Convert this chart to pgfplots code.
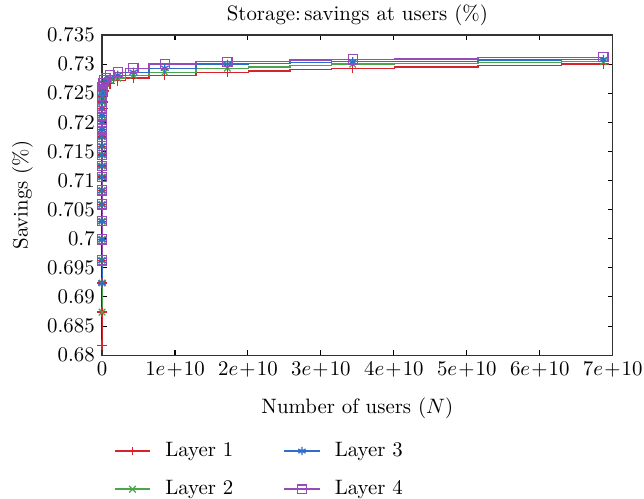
\documentclass[border=0pt]{standalone}
\usepackage{pgfplots}
\pgfplotsset{compat=1.18}
\usepackage{pgfplotstable}
\usetikzlibrary{calc}
\definecolor{c1}{RGB}{215,35,45}
\definecolor{c2}{RGB}{75,165,75}
\definecolor{c3}{RGB}{45,110,200}
\definecolor{c4}{RGB}{150,75,185}

% marked points (N = 2^k, k = 9..36)
\pgfplotstableread{
x L1 L2 L3 L4
5.12e2 0.6817 0.6874 0.6924 0.6963
1.024e3 0.6874 0.6924 0.6963 0.6999
2.048e3 0.6924 0.6963 0.6999 0.7030
4.096e3 0.6963 0.6999 0.7030 0.7059
8.192e3 0.6999 0.7030 0.7059 0.7083
1.6384e4 0.7030 0.7059 0.7083 0.7106
3.2768e4 0.7059 0.7083 0.7106 0.7125
6.5536e4 0.7083 0.7106 0.7125 0.7144
1.31072e5 0.7106 0.7125 0.7144 0.7159
2.62144e5 0.7125 0.7144 0.7159 0.7175
5.24288e5 0.7144 0.7159 0.7175 0.7188
1.048576e6 0.7159 0.7175 0.7188 0.7201
2.097152e6 0.7175 0.7188 0.7201 0.7212
4.194304e6 0.7188 0.7201 0.7212 0.7224
8.388608e6 0.7201 0.7212 0.7224 0.7235
1.6777216e7 0.7212 0.7224 0.7235 0.7245
3.3554432e7 0.7224 0.7235 0.7245 0.7254
6.7108864e7 0.7235 0.7245 0.7254 0.7261
1.34217728e8 0.7245 0.7254 0.7261 0.7267
2.68435456e8 0.7254 0.7261 0.7267 0.7272
5.36870912e8 0.7261 0.7267 0.7272 0.7276
1.073741824e9 0.7267 0.7272 0.7276 0.7281
2.147483648e9 0.7272 0.7276 0.7281 0.7286
4.294967296e9 0.7276 0.7281 0.7286 0.7293
8.589934592e9 0.7281 0.7286 0.7293 0.7300
1.7179869184e10 0.7286 0.7293 0.7300 0.7304
3.4359738368e10 0.7293 0.7300 0.7304 0.7308
6.8719476736e10 0.7300 0.7304 0.7308 0.7312
}\marktab

% line data (marked points plus unmarked steps)
\pgfplotstableread{
x L1 L2 L3 L4
5.12e2 0.6817 0.6874 0.6924 0.6963
1.024e3 0.6874 0.6924 0.6963 0.6999
2.048e3 0.6924 0.6963 0.6999 0.7030
4.096e3 0.6963 0.6999 0.7030 0.7059
8.192e3 0.6999 0.7030 0.7059 0.7083
1.6384e4 0.7030 0.7059 0.7083 0.7106
3.2768e4 0.7059 0.7083 0.7106 0.7125
6.5536e4 0.7083 0.7106 0.7125 0.7144
1.31072e5 0.7106 0.7125 0.7144 0.7159
2.62144e5 0.7125 0.7144 0.7159 0.7175
5.24288e5 0.7144 0.7159 0.7175 0.7188
1.048576e6 0.7159 0.7175 0.7188 0.7201
2.097152e6 0.7175 0.7188 0.7201 0.7212
4.194304e6 0.7188 0.7201 0.7212 0.7224
8.388608e6 0.7201 0.7212 0.7224 0.7235
1.6777216e7 0.7212 0.7224 0.7235 0.7245
3.3554432e7 0.7224 0.7235 0.7245 0.7254
6.7108864e7 0.7235 0.7245 0.7254 0.7261
1.34217728e8 0.7245 0.7254 0.7261 0.7267
2.68435456e8 0.7254 0.7261 0.7267 0.7272
5.36870912e8 0.7261 0.7267 0.7272 0.7276
1.073741824e9 0.7267 0.7272 0.7276 0.7281
2.147483648e9 0.7272 0.7276 0.7281 0.7286
4.294967296e9 0.7276 0.7281 0.7286 0.7293
8.589934592e9 0.7281 0.7286 0.7293 0.7300
1.7179869184e10 0.7286 0.7293 0.7300 0.7304
2.2906492245e10 0.7288 0.7295 0.7301 0.7305
2.8633115307e10 0.7291 0.7298 0.7303 0.7307
3.4359738368e10 0.7293 0.7300 0.7304 0.7308
4.5812984491e10 0.7295 0.7301 0.7305 0.7309
5.7266230613e10 0.7298 0.7303 0.7307 0.7311
6.8719476736e10 0.7300 0.7304 0.7308 0.7312
}\linetab

\begin{document}
\begin{tikzpicture}
\begin{axis}[
  scale only axis,
  width=245pt, height=153.6pt,
  xmin=0, xmax=7e10, ymin=0.68, ymax=0.735,
  xtick={0,1e10,2e10,3e10,4e10,5e10,6e10,7e10},
  xticklabels={$0$,$1e\!+\!10$,$2e\!+\!10$,$3e\!+\!10$,$4e\!+\!10$,$5e\!+\!10$,$6e\!+\!10$,$7e\!+\!10$},
  scaled x ticks=false,
  ytick={0.68,0.685,0.69,0.695,0.7,0.705,0.71,0.715,0.72,0.725,0.73,0.735},
  yticklabel style={/pgf/number format/fixed,/pgf/number format/precision=3},
  tick align=inside,
  major tick length=2.5pt,
  tick style={black, line width=0.5pt},
  axis line style={line width=0.6pt, black!80},
  title={Storage:\thinspace savings at users (\%)},
  title style={yshift=-5pt},
  xlabel={Number of users ($N$)},
  xlabel style={yshift=-3pt},
  ylabel={Savings (\%)},
  legend columns=2,
  transpose legend,
  legend cell align=left,
  legend style={draw=none, fill=none, at={(0.01,-0.245)}, anchor=north west,
    row sep=6pt,
    /tikz/every even column/.append style={column sep=22pt}},
]
\addplot[c1, line width=0.6pt, const plot mark mid, forget plot] table[x=x, y=L1] {\linetab};
\addplot[c2, line width=0.6pt, const plot mark mid, forget plot] table[x=x, y=L2] {\linetab};
\addplot[c3, line width=0.6pt, const plot mark mid, forget plot] table[x=x, y=L3] {\linetab};
\addplot[c4, line width=0.6pt, const plot mark mid, forget plot] table[x=x, y=L4] {\linetab};

\addplot[c1, only marks, mark=+, mark size=2.5pt, mark options={line width=0.6pt},
  legend image code/.code={\draw[c1, line width=0.8pt] (0cm,0cm) -- (0.6cm,0cm); \draw[c1, line width=0.6pt] (0.3cm,-2pt) -- (0.3cm,2pt); \path (0.6cm+5pt,0cm);}]
  table[x=x, y=L1] {\marktab};
\addlegendentry{Layer 1}
\addplot[c2, only marks, mark=x, mark size=2.2pt, mark options={line width=0.6pt},
  legend image code/.code={\draw[c2, line width=0.8pt] (0cm,0cm) -- (0.6cm,0cm); \draw[c2, line width=0.6pt] (0.3cm,0cm) ++(-1.6pt,-1.6pt) -- ++(3.2pt,3.2pt) (0.3cm,0cm) ++(-1.6pt,1.6pt) -- ++(3.2pt,-3.2pt); \path (0.6cm+5pt,0cm);}]
  table[x=x, y=L2] {\marktab};
\addlegendentry{Layer 2}
\addplot[c3, only marks, mark=asterisk, mark size=2.2pt, mark options={line width=0.6pt},
  legend image code/.code={\draw[c3, line width=0.8pt] (0cm,0cm) -- (0.6cm,0cm); \draw[c3, line width=0.6pt] (0.3cm,0cm) ++(90:2pt) -- ++(270:4pt) (0.3cm,0cm) ++(30:2pt) -- ++(210:4pt) (0.3cm,0cm) ++(150:2pt) -- ++(330:4pt); \path (0.6cm+5pt,0cm);}]
  table[x=x, y=L3] {\marktab};
\addlegendentry{Layer 3}
\addplot[c4, only marks, mark=square, mark size=2.2pt, mark options={line width=0.6pt},
  legend image code/.code={\draw[c4, line width=0.8pt] (0cm,0cm) -- (0.6cm,0cm); \draw[c4, line width=0.6pt] (0.3cm,0cm) ++(-2pt,-2pt) rectangle ++(4pt,4pt); \path (0.6cm+5pt,0cm);}]
  table[x=x, y=L4] {\marktab};
\addlegendentry{Layer 4}
\end{axis}
\pgfresetboundingbox
\path ($(current axis.south west)+(-48.96pt,-68.64pt)$) rectangle ($(current axis.north east)+(15pt,16.8pt)$);
\end{tikzpicture}
\end{document}
